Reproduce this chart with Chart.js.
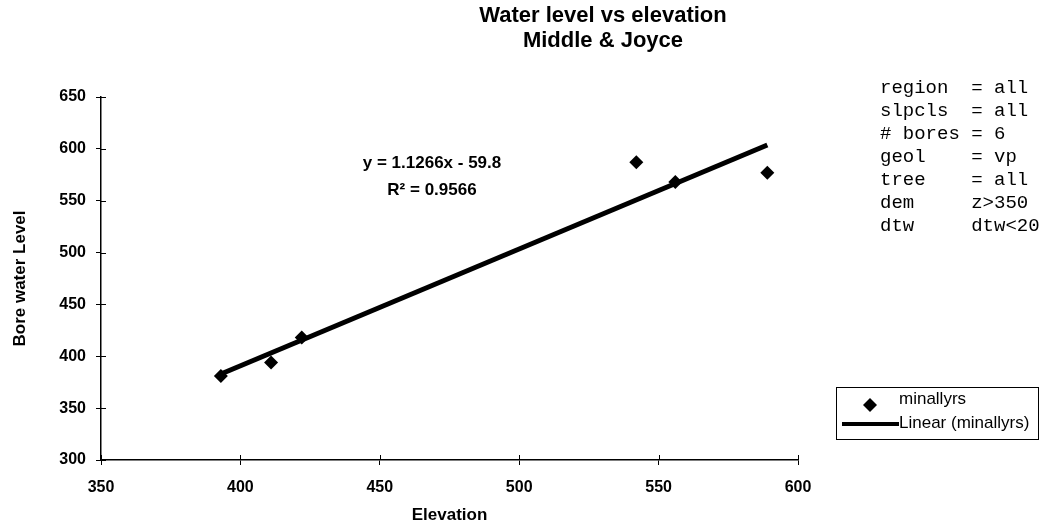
<!DOCTYPE html>
<html>
<head>
<meta charset="utf-8">
<script src="https://cdn.jsdelivr.net/npm/chart.js@4.4.1/dist/chart.umd.min.js"></script>
<style>
  html, body { margin: 0; padding: 0; background: #fff; }
  #wrap { width: 1048px; height: 531px; }
</style>
</head>
<body>
<div id="wrap"><canvas id="myChart" width="1048" height="531"></canvas></div>
<script>
const elevation = [393, 411, 422, 542, 556, 589];
const waterLevel = [381, 394, 418, 587, 568, 577];
const trendSlope = 1.1266;
const trendIntercept = -59.8;
const titleLines = ['Water level vs elevation', 'Middle & Joyce'];
const equationLines = ['y = 1.1266x - 59.8', 'R² = 0.9566'];
const infoLines = [
    'region  = all',
    'slpcls  = all',
    '# bores = 6',
    'geol    = vp',
    'tree    = all',
    'dem     z>350',
    'dtw     dtw<20'
];
const seriesName = 'minallyrs';
const trendName = 'Linear (minallyrs)';

const sansFont = "'Liberation Sans', Arial, sans-serif";
const monoFont = "'Liberation Mono', 'Courier New', monospace";

const points = elevation.map((x, i) => ({ x: x, y: waterLevel[i] }));
const xMin = Math.min(...elevation);
const xMax = Math.max(...elevation);
const trendPoints = [xMin, xMax].map(x => ({ x: x, y: trendSlope * x + trendIntercept }));

// inward half of the tick marks (Excel ticks cross the axis)
const crossTicks = {
    id: 'crossTicks',
    afterDatasetsDraw(chart) {
        const ctx = chart.ctx;
        const xs = chart.scales.x;
        const ys = chart.scales.y;
        const area = chart.chartArea;
        ctx.save();
        ctx.strokeStyle = '#000';
        ctx.lineWidth = 1;
        xs.ticks.forEach(t => {
            const px = Math.round(xs.getPixelForValue(t.value)) + 0.5;
            ctx.beginPath();
            ctx.moveTo(px, area.bottom);
            ctx.lineTo(px, area.bottom - 5);
            ctx.stroke();
        });
        ys.ticks.forEach(t => {
            const py = Math.round(ys.getPixelForValue(t.value)) + 0.5;
            ctx.beginPath();
            ctx.moveTo(area.left, py);
            ctx.lineTo(area.left + 5, py);
            ctx.stroke();
        });
        ctx.restore();
    }
};

const annotations = {
    id: 'annotations',
    afterDraw(chart) {
        const ctx = chart.ctx;
        ctx.save();
        ctx.fillStyle = '#000';

        // title
        ctx.font = 'bold 22px ' + sansFont;
        ctx.textAlign = 'center';
        ctx.textBaseline = 'middle';
        ctx.fillText(titleLines[0], 603, 16);
        ctx.fillText(titleLines[1], 603, 41);

        // trend equation
        ctx.font = 'bold 17px ' + sansFont;
        ctx.fillText(equationLines[0], 432, 163);
        ctx.fillText(equationLines[1], 432, 190);

        // info block
        ctx.font = '19px ' + monoFont;
        ctx.textAlign = 'left';
        infoLines.forEach((line, i) => {
            ctx.fillText(line, 880, 88 + i * 23);
        });

        // legend
        const lx = 836, ly = 387, lw = 202, lh = 52;
        ctx.strokeStyle = '#000';
        ctx.lineWidth = 1;
        ctx.strokeRect(lx + 0.5, ly + 0.5, lw, lh);
        ctx.beginPath();
        ctx.moveTo(870, 398);
        ctx.lineTo(877, 405);
        ctx.lineTo(870, 412);
        ctx.lineTo(863, 405);
        ctx.closePath();
        ctx.fill();
        ctx.lineWidth = 4;
        ctx.beginPath();
        ctx.moveTo(842, 424);
        ctx.lineTo(899, 424);
        ctx.stroke();
        ctx.font = '17px ' + sansFont;
        ctx.fillText(seriesName, 899, 399);
        ctx.fillText(trendName, 899, 423);

        ctx.restore();
    }
};

const ctx = document.getElementById('myChart');
new Chart(ctx.getContext('2d'), {
    type: 'scatter',
    data: {
        datasets: [
            {
                label: seriesName,
                data: points,
                pointStyle: 'rectRot',
                pointRadius: 7,
                pointHoverRadius: 7,
                backgroundColor: '#000',
                borderColor: '#000',
                borderWidth: 0
            },
            {
                label: trendName,
                type: 'line',
                data: trendPoints,
                borderColor: '#000',
                borderWidth: 5,
                pointRadius: 0,
                fill: false
            }
        ]
    },
    options: {
        responsive: false,
        animation: false,
        devicePixelRatio: 1,
        layout: { padding: { left: 0, top: 97, right: 250, bottom: 0 } },
        plugins: {
            legend: { display: false },
            title: { display: false },
            tooltip: { enabled: false }
        },
        scales: {
            x: {
                type: 'linear',
                min: 350,
                max: 600,
                afterFit(scale) { scale.height = 71; },
                ticks: {
                    stepSize: 50,
                    color: '#000',
                    padding: 13,
                    font: { family: sansFont, size: 16, weight: 'bold' }
                },
                grid: { display: true, drawOnChartArea: false, drawTicks: true, tickLength: 5, color: '#000' },
                border: { display: true, color: '#000', width: 1.5 },
                title: {
                    display: true,
                    text: 'Elevation',
                    color: '#000',
                    font: { family: sansFont, size: 17, weight: 'bold' },
                    padding: { top: 0, bottom: 5 }
                }
            },
            y: {
                type: 'linear',
                min: 300,
                max: 650,
                afterFit(scale) { scale.width = 101; },
                ticks: {
                    stepSize: 50,
                    color: '#000',
                    padding: 10,
                    font: { family: sansFont, size: 16, weight: 'bold' }
                },
                grid: { display: true, drawOnChartArea: false, drawTicks: true, tickLength: 5, color: '#000' },
                border: { display: true, color: '#000', width: 1.5 },
                title: {
                    display: true,
                    text: 'Bore water Level',
                    color: '#000',
                    font: { family: sansFont, size: 17, weight: 'bold' },
                    padding: { top: 10, bottom: 0 }
                }
            }
        }
    },
    plugins: [crossTicks, annotations]
});
</script>
</body>
</html>
